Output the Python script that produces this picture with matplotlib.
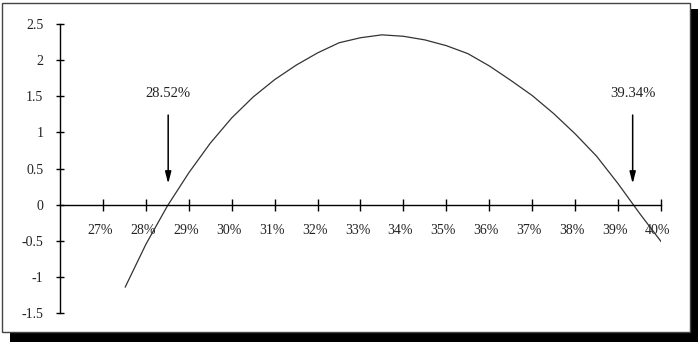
import matplotlib
matplotlib.use("Agg")
import matplotlib.pyplot as plt
import matplotlib.transforms as mtransforms
from matplotlib.patches import Rectangle

plt.rcParams['font.family'] = ['Liberation Serif', 'DejaVu Serif']

# rate (%) vs value
rates = [27.52, 28.0, 28.5, 29.0, 29.5, 30.0, 30.5, 31.0, 31.5, 32.0, 32.5, 33.0, 33.5,
         34.0, 34.5, 35.0, 35.5, 36.0, 36.5, 37.0, 37.5, 38.0, 38.5, 39.0, 39.5, 40.0]
values = [-1.14, -0.55, -0.02, 0.44, 0.85, 1.20, 1.49, 1.73, 1.93, 2.10, 2.24, 2.31, 2.35,
          2.33, 2.28, 2.20, 2.09, 1.92, 1.72, 1.51, 1.26, 0.98, 0.67, 0.29, -0.12, -0.51]

x_ticks = list(range(27, 41))
x_labels = [f"{t}%" for t in x_ticks]
y_ticks = [-1.5, -1, -0.5, 0, 0.5, 1, 1.5, 2, 2.5]
y_labels = ["-1.5", "-1", "-0.5", "0", "0.5", "1", "1.5", "2", "2.5"]

roots = [28.52, 39.34]
root_labels = ["28.52%", "39.34%"]

fig = plt.figure(figsize=(6.98, 3.43), dpi=100)

# framed box with black drop shadow (behind the axes)
W, H = 698, 343
fig.patches.append(Rectangle((10 / W, 1 / H), 688 / W, 333 / H, transform=fig.transFigure,
                             facecolor="black", edgecolor="none", zorder=-2))
fig.patches.append(Rectangle((2 / W, 11 / H), 688 / W, 329 / H, transform=fig.transFigure,
                             facecolor="white", edgecolor="#444444", linewidth=1.0, zorder=-1))

ax = fig.add_axes([60 / W, 30 / H, 601 / W, 289 / H])
ax.patch.set_alpha(0)

ax.plot(rates, values, color="#333333", linewidth=0.9)

ax.set_xlim(26, 40)
ax.set_ylim(-1.5, 2.5)

ax.spines['top'].set_visible(False)
ax.spines['right'].set_visible(False)
ax.spines['bottom'].set_position(('data', 0))
ax.spines['left'].set_linewidth(1.0)
ax.spines['bottom'].set_linewidth(1.0)

ax.set_xticks(x_ticks)
ax.set_xticklabels(x_labels)
ax.set_yticks(y_ticks)
ax.set_yticklabels(y_labels)
ax.tick_params(axis='x', direction='inout', length=8, width=1.0, pad=10,
               labelsize=10, labelcolor="#222222")
ax.tick_params(axis='y', direction='inout', length=6, width=1.0, pad=9,
               labelsize=10, labelcolor="#222222")

# x labels sit a little left of their ticks in the original
shift = mtransforms.ScaledTranslation(-3 / 100, 0, fig.dpi_scale_trans)
for lbl in ax.get_xticklabels():
    lbl.set_transform(lbl.get_transform() + shift)

for r, lab in zip(roots, root_labels):
    ax.annotate("", xy=(r, 0.29), xytext=(r, 1.24),
                arrowprops=dict(arrowstyle="-|>,head_length=0.7,head_width=0.18",
                                color="black", lw=1.1, shrinkA=0, shrinkB=0))
    ax.text(r, 1.54, lab, ha="center", va="center", fontsize=10.5, color="#222222")

fig.savefig("out.png", dpi=100)
